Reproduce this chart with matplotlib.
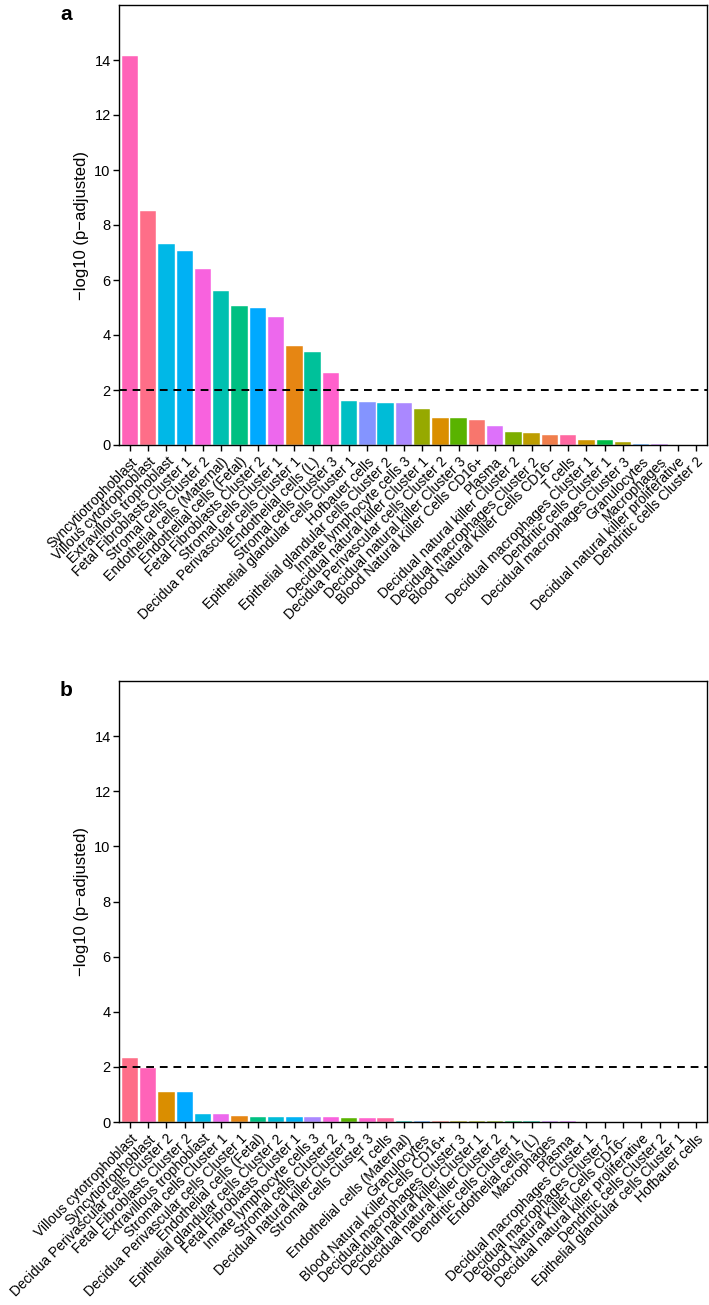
import numpy as np
import matplotlib
matplotlib.use("Agg")
import matplotlib.pyplot as plt

plt.rcParams['font.family'] = ['Liberation Sans', 'DejaVu Sans']

# panel a: cell types and -log10(p-adjusted)
cells_a = [
    "Syncytiotrophoblast", "Villous cytotrophoblast", "Extravillous trophoblast",
    "Fetal Fibroblasts Cluster 1", "Stromal cells Cluster 2", "Endothelial cells (Maternal)",
    "Endothelial cells (Fetal)", "Fetal Fibroblasts Cluster 2", "Stromal cells Cluster 1",
    "Decidua Perivascular cells Cluster 1", "Endothelial cells (L)", "Stromal cells Cluster 3",
    "Epithelial glandular cells Cluster 1", "Hofbauer cells", "Epithelial glandular cells Cluster 2",
    "Innate lymphocyte cells 3", "Decidual natural killer Cluster 1",
    "Decidua Perivascular cells Cluster 2", "Decidual natural killer Cluster 3",
    "Blood Natural Killer Cells CD16+", "Plasma", "Decidual natural killer Cluster 2",
    "Decidual macrophages Cluster 2", "Blood Natural Killer Cells CD16\u2212", "T cells",
    "Decidual macrophages Cluster 1", "Dendritic cells Cluster 1", "Decidual macrophages Cluster 3",
    "Granulocytes", "Macrophages", "Decidual natural killer proliferative", "Dendritic cells Cluster 2",
]
vals_a = [14.15, 8.5, 7.3, 7.05, 6.4, 5.6, 5.07, 5.0, 4.65, 3.6, 3.37, 2.62,
          1.6, 1.57, 1.53, 1.53, 1.32, 1.0, 1.0, 0.9, 0.7, 0.48, 0.45, 0.36, 0.36,
          0.17, 0.17, 0.12, 0.04, 0.04, 0.0, 0.0]

# panel b
cells_b = [
    "Villous cytotrophoblast", "Syncytiotrophoblast", "Decidua Perivascular cells Cluster 2",
    "Fetal Fibroblasts Cluster 2", "Extravillous trophoblast", "Stromal cells Cluster 1",
    "Decidua Perivascular cells Cluster 1", "Endothelial cells (Fetal)",
    "Epithelial glandular cells Cluster 2", "Fetal Fibroblasts Cluster 1",
    "Innate lymphocyte cells 3", "Stromal cells Cluster 2", "Decidual natural killer Cluster 3",
    "Stromal cells Cluster 3", "T cells", "Endothelial cells (Maternal)", "Granulocytes",
    "Blood Natural Killer Cells CD16+", "Decidual macrophages Cluster 3",
    "Decidual natural killer Cluster 1", "Decidual natural killer Cluster 2",
    "Dendritic cells Cluster 1", "Endothelial cells (L)", "Macrophages", "Plasma",
    "Decidual macrophages Cluster 1", "Decidual macrophages Cluster 2",
    "Blood Natural Killer Cells CD16\u2212", "Decidual natural killer proliferative",
    "Dendritic cells Cluster 2", "Epithelial glandular cells Cluster 1", "Hofbauer cells",
]
vals_b = [2.32, 1.97, 1.1, 1.1, 0.28, 0.28, 0.2, 0.19, 0.19, 0.19, 0.19, 0.18, 0.15,
          0.13, 0.13, 0.04, 0.04, 0.02, 0.02, 0.02, 0.02, 0.02, 0.02, 0.02, 0.02,
          0.01, 0.01, 0.01, 0.0, 0.0, 0.0, 0.0]

threshold = 2


def hue_pal(n, l=65, c=100):
    # ggplot2 style hue palette (polar LUV -> sRGB)
    hues = np.linspace(15, 375, n + 1)[:-1]
    xn, yn, zn = 95.047, 100.0, 108.883
    un = 4 * xn / (xn + 15 * yn + 3 * zn)
    vn = 9 * yn / (xn + 15 * yn + 3 * zn)
    out = []
    for h in hues:
        u = c * np.cos(np.radians(h))
        v = c * np.sin(np.radians(h))
        Y = yn * ((l + 16) / 116) ** 3
        up = u / (13 * l) + un
        vp = v / (13 * l) + vn
        X = Y * 9 * up / (4 * vp)
        Z = Y * (12 - 3 * up - 20 * vp) / (4 * vp)
        X, Y2, Z = X / 100, Y / 100, Z / 100
        r = 3.2404542 * X - 1.5371385 * Y2 - 0.4985314 * Z
        g = -0.9692660 * X + 1.8760108 * Y2 + 0.0415560 * Z
        b = 0.0556434 * X - 0.2040259 * Y2 + 1.0572252 * Z
        rgb = []
        for ch in (r, g, b):
            ch = 12.92 * ch if ch <= 0.0031308 else 1.055 * ch ** (1 / 2.4) - 0.055
            rgb.append(min(max(ch, 0), 1))
        out.append(tuple(rgb))
    return out


levels = sorted(cells_a)
colmap = dict(zip(levels, hue_pal(len(levels))))

fig = plt.figure(figsize=(7.09, 13.05), dpi=100)
ax_a = fig.add_axes([119 / 709, 1 - 445 / 1305, 588 / 709, 440 / 1305])
ax_b = fig.add_axes([119 / 709, 1 - 1122 / 1305, 588 / 709, 441 / 1305])

for ax, cells, vals, tag in [(ax_a, cells_a, vals_a, 'a'), (ax_b, cells_b, vals_b, 'b')]:
    x = np.arange(len(cells))
    ax.bar(x, vals, width=0.9, color=[colmap[c] for c in cells],
           edgecolor='white', linewidth=0.3, zorder=2)
    ax.axhline(threshold, color='black', linestyle=(0, (4, 3)), linewidth=1.4, zorder=3)
    ax.set_xlim(-0.6, len(cells) - 0.4)
    ax.set_ylim(0, 16)
    ax.set_yticks(range(0, 16, 2))
    ax.set_xticks(x)
    ax.set_xticklabels(cells, rotation=45, ha='right', va='top',
                       rotation_mode='anchor', fontsize=10)
    ax.tick_params(axis='y', labelsize=10.5, length=4, width=1, pad=2, colors='black')
    ax.tick_params(axis='x', length=4, width=1, pad=3)
    ax.set_ylabel('\u2212log10 (p\u2212adjusted)', fontsize=12, labelpad=4)
    for s in ax.spines.values():
        s.set_linewidth(1)
        s.set_color('black')
    ax.text(-0.09, 1.0, tag, transform=ax.transAxes, fontsize=15,
            fontweight='bold', ha='center', va='top')

fig.savefig('out.png', dpi=100)
